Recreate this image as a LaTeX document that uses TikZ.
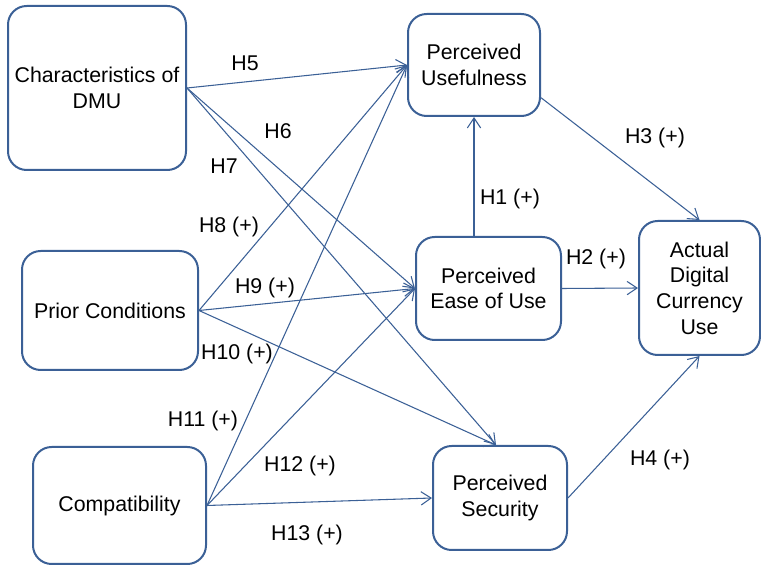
\documentclass[tikz,border=0pt]{standalone}
\usepackage{fontspec}
\setmainfont{Liberation Sans}
\usetikzlibrary{arrows.meta}
\definecolor{boxblue}{RGB}{59,96,150}
\tikzstyle{construct}=[draw=boxblue, line width=1.5pt, rounded corners=14pt, align=center, inner sep=0pt]
\tikzstyle{hyp}=[-{Straight Barb[length=7.5pt,width=10pt]}, boxblue, line width=0.8pt]
\tikzstyle{hlabel}=[inner sep=1pt]

\begin{document}
\begin{tikzpicture}[x=0.75pt, y=-0.75pt, font=\fontsize{16}{19.3}\selectfont]
  \useasboundingbox (0,0) rectangle (761,566);
  % antecedents
  \node[construct, minimum width=133.5pt, minimum height=123pt] (dmu) at (97,88) {Characteristics of\\DMU};
  \node[construct, minimum width=132pt, minimum height=89.25pt] (prior) at (110,310.5) {Prior Conditions};
  \node[construct, minimum width=129.75pt, minimum height=87.75pt] (compat) at (119.5,505.5) {Compatibility};
  % perceptions
  \node[construct, minimum width=99pt, minimum height=76.5pt] (pu) at (474,65) {Perceived\\Usefulness};
  \node[construct, minimum width=108.75pt, minimum height=77.25pt] (peou) at (488.5,288.5) {Perceived\\Ease of Use};
  \node[construct, minimum width=100.5pt, minimum height=78pt] (ps) at (500,498) {Perceived\\Security};
  \node[construct, minimum width=90.75pt, minimum height=100.5pt] (use) at (699.5,288) {Actual\\Digital\\Currency\\Use};
  % hypotheses
  \draw[hyp] (dmu.east) -- (pu.west);
  \draw[hyp] (dmu.east) -- (peou.west);
  \draw[hyp] (dmu.east) -- ([xshift=-3pt]ps.north);
  \draw[hyp] (prior.east) -- (pu.west);
  \draw[hyp] (prior.east) -- (peou.west);
  \draw[hyp] (prior.east) -- ([xshift=-3pt]ps.north);
  \draw[hyp] (compat.east) -- (pu.west);
  \draw[hyp] (compat.east) -- (peou.west);
  \draw[hyp] (compat.east) -- (ps.west);
  \draw[hyp] (peou.north -| pu.south) -- (pu.south);
  \draw[hyp] (peou.east) -- (use.west);
  \draw[hyp] (pu.-26) -- (use.north);
  \draw[hyp] (ps.east) -- (use.south);
  % labels
  \node[hlabel] (l5) at (245,63) {H5};
  \node[hlabel] (l6) at (278,131) {H6};
  \node[hlabel] (l7) at (224,166) {H7};
  \node[hlabel] (l8) at (229,227) {H8 (+)};
  \node[hlabel] (l9) at (265,288) {H9 (+)};
  \node[hlabel] (l10) at (237,354) {H10 (+)};
  \node[hlabel] (l11) at (203,421) {H11 (+)};
  \node[hlabel] (l12) at (300,466) {H12 (+)};
  \node[hlabel] (l13) at (307,535) {H13 (+)};
  \node[hlabel] (l1) at (510,199) {H1 (+)};
  \node[hlabel] (l2) at (596,259) {H2 (+)};
  \node[hlabel] (l3) at (655,138) {H3 (+)};
  \node[hlabel] (l4) at (660,460) {H4 (+)};
\end{tikzpicture}
\end{document}
